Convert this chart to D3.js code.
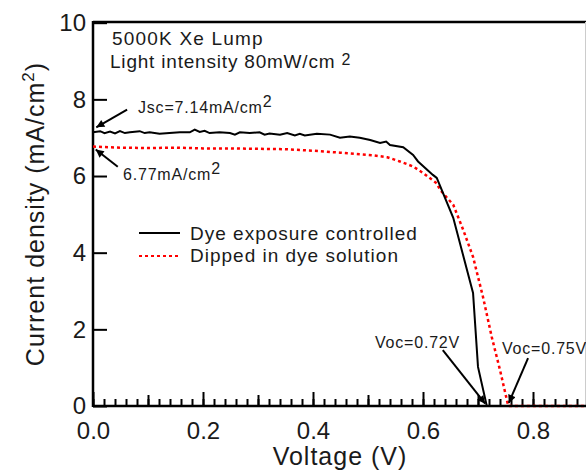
<!DOCTYPE html>
<html>
<head>
<meta charset="utf-8">
<title>J-V curve</title>
<script src="https://d3js.org/d3.v7.min.js"></script>
<style>
  body { margin: 0; background: #fff; }
  text { font-family: "Liberation Sans", Arial, sans-serif; fill: #1a1a1a; }
</style>
</head>
<body>
<div id="chart"></div>
<script>
// Dye exposure controlled (black, solid): [voltage V, current density mA/cm2]
const dyeExposure = [
  [0.000, 7.14], [0.013, 7.17], [0.021, 7.12], [0.031, 7.16], [0.040, 7.11],
  [0.049, 7.17], [0.058, 7.12], [0.067, 7.14], [0.085, 7.17], [0.094, 7.12],
  [0.103, 7.14], [0.121, 7.10], [0.139, 7.12], [0.158, 7.14], [0.176, 7.14],
  [0.185, 7.21], [0.194, 7.15], [0.203, 7.18], [0.212, 7.12], [0.230, 7.14],
  [0.249, 7.12], [0.258, 7.08], [0.267, 7.14], [0.285, 7.12], [0.303, 7.14],
  [0.312, 7.08], [0.321, 7.11], [0.340, 7.08], [0.353, 7.12], [0.367, 7.06],
  [0.376, 7.10], [0.385, 7.06], [0.407, 7.10], [0.431, 7.08], [0.449, 7.00],
  [0.467, 7.03], [0.485, 7.00], [0.504, 6.94], [0.522, 6.86], [0.533, 6.90],
  [0.540, 6.81], [0.564, 6.75], [0.582, 6.55], [0.591, 6.38], [0.618, 6.03],
  [0.625, 5.95], [0.655, 4.91], [0.691, 2.95], [0.700, 1.02], [0.716, 0.00],
  [0.900, 0.00]
];
// Dipped in dye solution (red, dotted)
const dippedDye = [
  [0.000, 6.77], [0.050, 6.74], [0.100, 6.73], [0.150, 6.74], [0.200, 6.72],
  [0.250, 6.72], [0.300, 6.71], [0.349, 6.70], [0.400, 6.66], [0.449, 6.61],
  [0.485, 6.57], [0.509, 6.54], [0.535, 6.49], [0.558, 6.38], [0.582, 6.25],
  [0.600, 6.08], [0.625, 5.81], [0.631, 5.64], [0.655, 5.25], [0.673, 4.60],
  [0.691, 3.89], [0.709, 2.85], [0.725, 1.80], [0.740, 0.94], [0.755, 0.00],
  [0.900, 0.00]
];

const yTicks = [0, 2, 4, 6, 8, 10];
const xMajorTicks = [0.0, 0.2, 0.4, 0.6, 0.8];
const xMidTicks = [0.1, 0.3, 0.5, 0.7];
const xMinorTicks = d3.range(0, 0.91, 0.02);

const seriesNames = ["Dye exposure controlled", "Dipped in dye solution"];

const width = 586, height = 472;
const svg = d3.select("#chart").append("svg")
  .attr("width", width).attr("height", height);

const x = d3.scaleLinear().domain([0, 0.9]).range([93, 93 + 0.9 * 550]);
const y = d3.scaleLinear().domain([0, 10]).range([406, 22.7]);

// arrowhead
svg.append("defs").append("marker")
  .attr("id", "arrow")
  .attr("viewBox", "0 0 10 10")
  .attr("refX", 10).attr("refY", 5)
  .attr("markerWidth", 11).attr("markerHeight", 8)
  .attr("markerUnits", "userSpaceOnUse")
  .attr("orient", "auto")
  .append("path").attr("d", "M0,0L10,5L0,10z").attr("fill", "#000");

// frame: top line and faint right edge
svg.append("line").attr("x1", 93).attr("x2", width).attr("y1", 22).attr("y2", 22)
  .attr("stroke", "#000").attr("stroke-width", 2.5);
svg.append("line").attr("x1", 585.5).attr("x2", 585.5).attr("y1", 22).attr("y2", 406)
  .attr("stroke", "#ccc").attr("stroke-width", 1);

// x axis: three tick levels pointing inward
function xAxis(ticks, size, labels) {
  const ax = d3.axisBottom(x).tickValues(ticks).tickSize(-size).tickSizeOuter(0).tickPadding(16);
  if (labels) ax.tickFormat(d3.format(".1f")); else ax.tickFormat("");
  const g = svg.append("g").attr("transform", "translate(0,406)").call(ax);
  g.select(".domain").remove();
  g.selectAll(".tick line").attr("stroke", "#000").attr("stroke-width", 2);
  g.selectAll("text").style("font-size", "24px").attr("fill", "#1a1a1a");
  return g;
}
xAxis(xMinorTicks, 7, false);
xAxis(xMidTicks, 11, false);
xAxis(xMajorTicks, 14, true);
svg.append("line").attr("x1", 93).attr("x2", width).attr("y1", 406).attr("y2", 406)
  .attr("stroke", "#000").attr("stroke-width", 2.5);

const gy = svg.append("g").attr("transform", "translate(93,0)")
  .call(d3.axisLeft(y).tickValues(yTicks).tickSize(-14).tickSizeOuter(0).tickPadding(7));
gy.select(".domain").remove();
gy.selectAll(".tick line").attr("stroke", "#000").attr("stroke-width", 2);
gy.selectAll("text").style("font-size", "24px").attr("fill", "#1a1a1a");
svg.append("line").attr("x1", 93).attr("x2", 93).attr("y1", 21).attr("y2", 407)
  .attr("stroke", "#000").attr("stroke-width", 2.5);

// axis titles
svg.append("text").attr("x", 340).attr("y", 465).attr("text-anchor", "middle")
  .style("font-size", "25px").style("letter-spacing", "1px").text("Voltage (V)");
const yt = svg.append("text").attr("transform", "translate(44,214) rotate(-90)")
  .attr("text-anchor", "middle").style("font-size", "25px").style("letter-spacing", "1px");
yt.append("tspan").text("Current density (mA/cm");
yt.append("tspan").attr("dy", -10).style("font-size", "17px").text("2");
yt.append("tspan").attr("dy", 10).text(")");

// curves
const line = d3.line().x(d => x(d[0])).y(d => y(d[1]));
svg.append("path").datum(dippedDye).attr("d", line)
  .attr("fill", "none").attr("stroke", "#ff0000").attr("stroke-width", 2.5)
  .attr("stroke-dasharray", "3,3");
svg.append("path").datum(dyeExposure).attr("d", line)
  .attr("fill", "none").attr("stroke", "#000").attr("stroke-width", 2);

// legend
const legend = svg.append("g");
legend.append("line").attr("x1", 139).attr("x2", 180).attr("y1", 233).attr("y2", 233)
  .attr("stroke", "#000").attr("stroke-width", 2);
legend.append("line").attr("x1", 139).attr("x2", 180).attr("y1", 256).attr("y2", 256)
  .attr("stroke", "#ff0000").attr("stroke-width", 2).attr("stroke-dasharray", "3,3");
legend.selectAll("text.leg").data(seriesNames).enter().append("text")
  .attr("class", "leg").attr("x", 190).attr("y", (d, i) => 240 + i * 22)
  .style("font-size", "19px").style("letter-spacing", "1px").text(d => d);

// conditions
svg.append("text").attr("x", 112).attr("y", 45).style("font-size", "19px")
  .style("letter-spacing", "1.2px").text("5000K Xe Lump");
const li = svg.append("text").attr("x", 110).attr("y", 68).style("font-size", "19px")
  .style("letter-spacing", "0.8px");
li.append("tspan").text("Light intensity 80mW/cm ");
li.append("tspan").attr("dy", -3).style("font-size", "16px").text("2");

// annotations with arrows (in data units)
function note(txt, tx, ty, from, to, size) {
  const t = svg.append("text").attr("x", tx).attr("y", ty)
    .style("font-size", size + "px").style("letter-spacing", "0.8px");
  t.append("tspan").text(txt);
  if (txt.endsWith("cm")) t.append("tspan").attr("dy", -6).style("font-size", "16px").text("2");
  svg.append("line")
    .attr("x1", x(from[0])).attr("y1", y(from[1]))
    .attr("x2", x(to[0])).attr("y2", y(to[1]))
    .attr("stroke", "#000").attr("stroke-width", 2).attr("marker-end", "url(#arrow)");
}
note("Jsc=7.14mA/cm", 138, 113, [0.062, 7.73], [0.006, 7.27], 16);
note("6.77mA/cm", 123, 180, [0.045, 6.24], [0.005, 6.69], 16);
note("Voc=0.72V", 375, 348, [0.636, 1.46], [0.713, 0.06], 16);
note("Voc=0.75V", 502, 354, [0.791, 1.25], [0.756, 0.08], 16);
</script>
</body>
</html>
